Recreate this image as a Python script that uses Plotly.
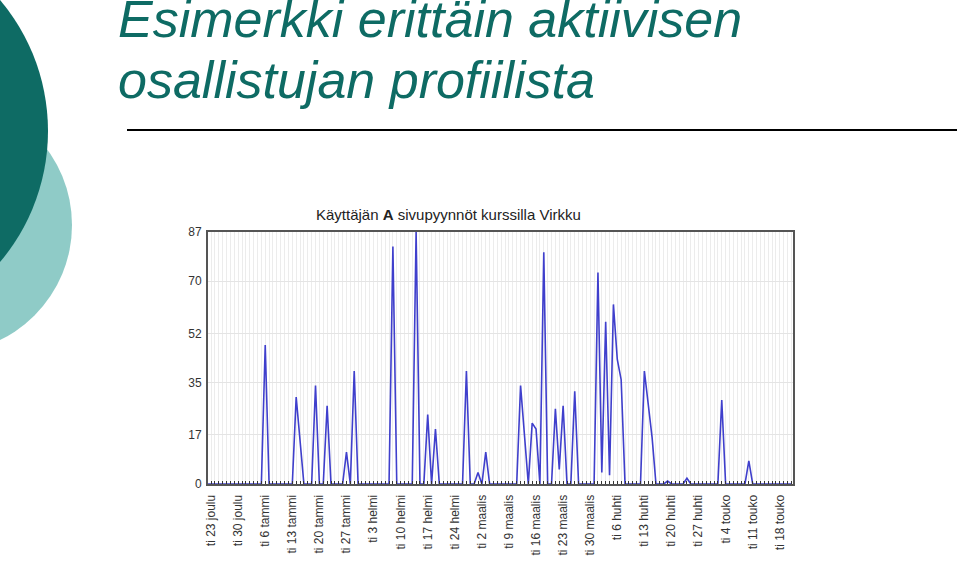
import plotly.graph_objects as go
import pandas as pd

# ---- data: daily page requests, weeks starting on Monday 22.12.2003 ----
weekly_values = [
    [0, 0, 0, 0, 0, 0, 0],
    [0, 0, 0, 0, 0, 0, 0],
    [0, 48, 0, 0, 0, 0, 0],
    [0, 0, 30, 15, 0, 0, 0],
    [34, 0, 0, 27, 0, 0, 0],
    [0, 11, 0, 39, 0, 0, 0],
    [0, 0, 0, 0, 0, 0, 82],
    [0, 0, 0, 0, 0, 87, 0],
    [0, 24, 0, 19, 0, 0, 0],
    [0, 0, 0, 0, 39, 0, 0],
    [4, 0, 11, 0, 0, 0, 0],
    [0, 0, 0, 0, 34, 17, 0],
    [21, 19, 0, 80, 0, 0, 26],
    [5, 27, 0, 0, 32, 0, 0],
    [0, 0, 0, 73, 4, 56, 3],
    [62, 43, 36, 0, 0, 0, 0],
    [0, 39, 27, 16, 0, 0, 0],
    [1, 0, 0, 0, 0, 2, 0],
    [0, 0, 0, 0, 0, 0, 0],
    [29, 0, 0, 0, 0, 0, 0],
    [8, 0, 0, 0, 0, 0, 0],
    [0, 0, 0, 0, 0],
]
values = [v for week in weekly_values for v in week]
days = pd.date_range("2003-12-22", periods=len(values), freq="D")

tick_dates = ["2003-12-23", "2003-12-30", "2004-01-06", "2004-01-13", "2004-01-20",
              "2004-01-27", "2004-02-03", "2004-02-10", "2004-02-17", "2004-02-24",
              "2004-03-02", "2004-03-09", "2004-03-16", "2004-03-23", "2004-03-30",
              "2004-04-06", "2004-04-13", "2004-04-20", "2004-04-27", "2004-05-04",
              "2004-05-11", "2004-05-18"]
tick_labels = ["ti 23 joulu", "ti 30 joulu", "ti 6 tammi", "ti 13 tammi", "ti 20 tammi",
               "ti 27 tammi", "ti 3 helmi", "ti 10 helmi", "ti 17 helmi", "ti 24 helmi",
               "ti 2 maalis", "ti 9 maalis", "ti 16 maalis", "ti 23 maalis", "ti 30 maalis",
               "ti 6 huhti", "ti 13 huhti", "ti 20 huhti", "ti 27 huhti", "ti 4 touko",
               "ti 11 touko", "ti 18 touko"]
y_ticks = [0, 17, 35, 52, 70, 87]

slide_title = ["Esimerkki erittäin aktiivisen", "osallistujan profiilista"]
chart_title = "Käyttäjän <b>A</b> sivupyynnöt kurssilla Virkku"

# ---- layout geometry (pixels) ----
W, H = 960, 567
L, R, T, B = 208, 793, 232, 484


def px(x):
    return (x - L) / (R - L)


def py(y):
    return (B - y) / (B - T)


TEAL = "#0e6b64"
LIGHT_TEAL = "#8fcbc7"
SANS = "Liberation Sans, Arial, sans-serif"

fig = go.Figure(
    go.Scatter(x=days, y=values, mode="lines",
               line=dict(color="#3f3fcc", width=1.6), hoverinfo="skip")
)

fig.update_layout(
    width=W, height=H,
    margin=dict(l=L, r=W - R, t=T, b=H - B, pad=0),
    paper_bgcolor="white", plot_bgcolor="white",
    showlegend=False,
)

fig.update_xaxes(
    type="date",
    range=["2003-12-22 05:00", "2004-05-21 10:00"],
    tickmode="array", tickvals=tick_dates, ticktext=tick_labels,
    tickangle=-90, ticks="", ticklabelstandoff=4,
    tickfont=dict(family=SANS, size=12, color="#333333"),
    showgrid=False, zeroline=False,
    showline=True, mirror=True, linecolor="#555555", linewidth=2,
    minor=dict(tickmode="linear", tick0="2003-12-22", dtick=86400000,
               ticks="inside", ticklen=3, tickcolor="#333333",
               showgrid=True, gridcolor="#ececec", gridwidth=1),
)
fig.update_yaxes(
    range=[0, 87], tickmode="array", tickvals=y_ticks,
    ticks="", ticklabelstandoff=2,
    tickfont=dict(family=SANS, size=12, color="#333333"),
    showgrid=True, gridcolor="#e4e4e4", gridwidth=1, zeroline=False,
    showline=True, mirror=True, linecolor="#555555", linewidth=2,
)

# decorative circles at the left edge of the slide
fig.add_shape(type="circle", xref="paper", yref="paper",
              x0=px(-184), x1=px(72), y0=py(353), y1=py(97),
              fillcolor=LIGHT_TEAL, line=dict(width=0), layer="above")
fig.add_shape(type="circle", xref="paper", yref="paper",
              x0=px(-358), x1=px(48), y0=py(334), y1=py(-72),
              fillcolor=TEAL, line=dict(width=0), layer="above")
# horizontal rule under the title
fig.add_shape(type="line", xref="paper", yref="paper",
              x0=px(127), x1=px(957), y0=py(130), y1=py(130),
              line=dict(color="black", width=2))

# slide title
for text, yc in zip(slide_title, [19, 80]):
    fig.add_annotation(text=text, xref="paper", yref="paper",
                       x=px(116), y=py(yc), xanchor="left", yanchor="middle",
                       showarrow=False,
                       font=dict(family=SANS, size=52, color=TEAL, style="italic"))

# chart title
fig.add_annotation(text=chart_title, xref="paper", yref="paper",
                   x=px(448), y=py(214), xanchor="center", yanchor="middle",
                   showarrow=False,
                   font=dict(family=SANS, size=15, color="#222222"))

fig.write_html("out.html")
